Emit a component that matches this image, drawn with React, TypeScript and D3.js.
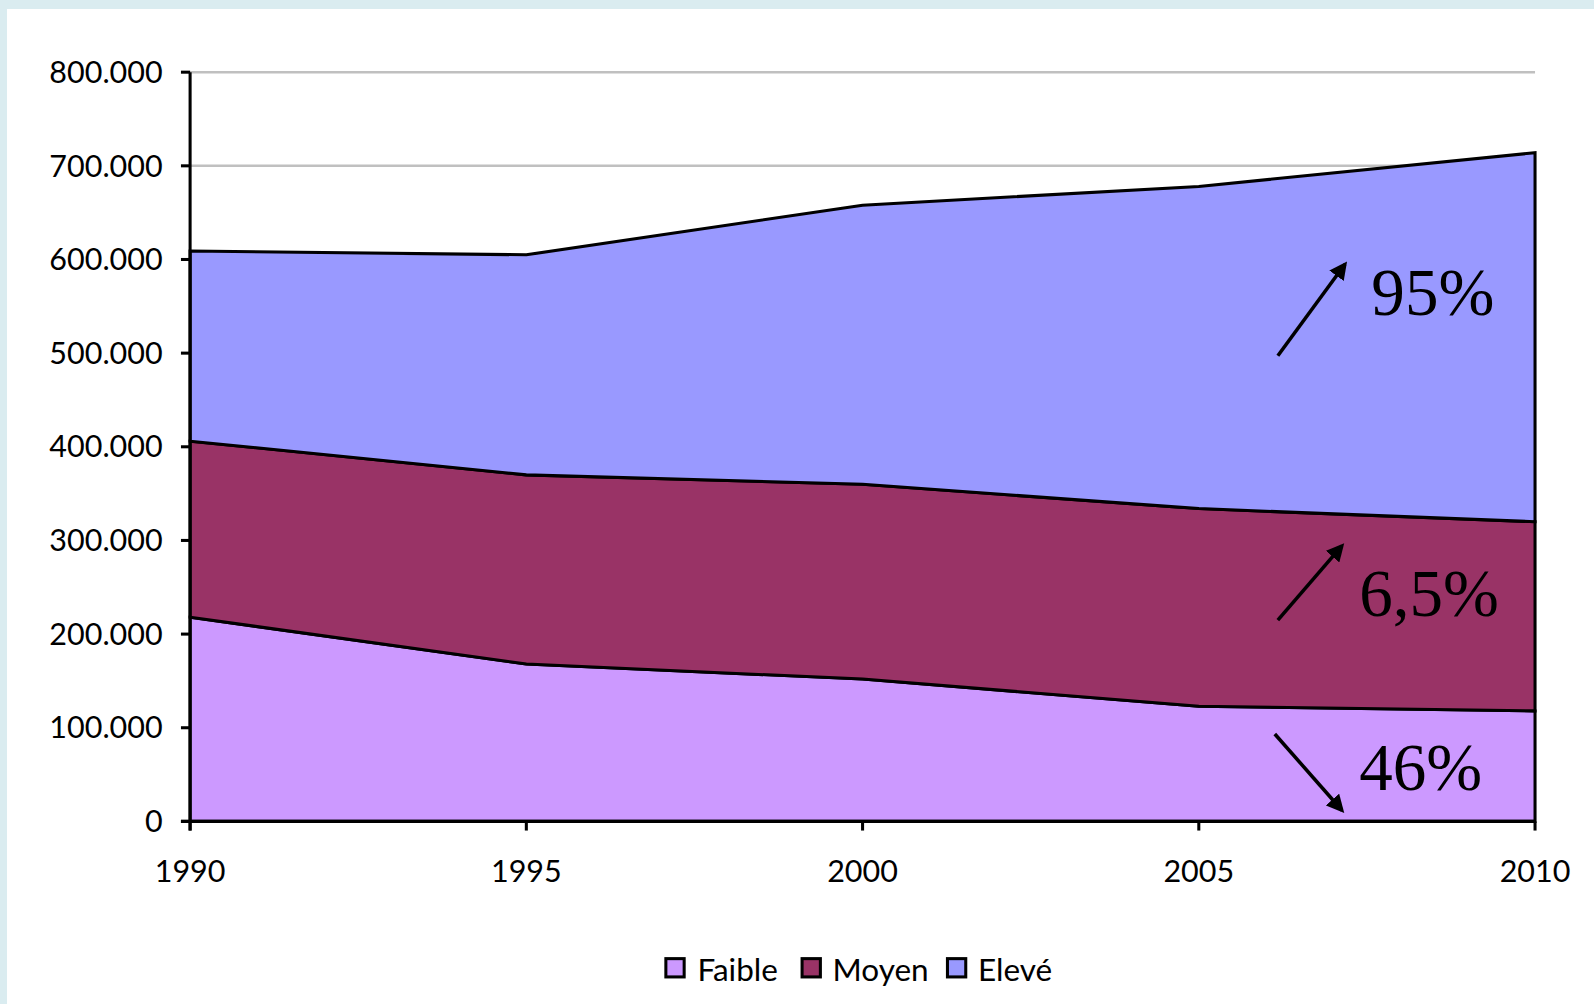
import React from "react";
import * as d3 from "d3";

const years = [1990, 1995, 2000, 2005, 2010];
const faible = [218000, 168000, 152000, 123000, 118000];
const moyen = [188000, 202000, 208000, 211000, 202000];
const eleve = [203000, 235000, 298000, 344000, 394000];
const seriesNames = ["Faible", "Moyen", "Elevé"];
const seriesColors = ["#cc99ff", "#993366", "#9999ff"];
const yTicks = [0, 100000, 200000, 300000, 400000, 500000, 600000, 700000, 800000];
const annotations = ["95%", "6,5%", "46%"];

const W = 1594;
const H = 1004;
const VW = 1568;
const VH = (H * VW) / W;
const left = 187;
const right = 1510;
const top = 71;
const bottom = 808;

export default function App() {
  const x = d3.scaleLinear().domain([1990, 2010]).range([left, right]);
  const y = d3.scaleLinear().domain([0, 800000]).range([bottom, top]);
  const rows = years.map((yr, i) => ({ year: yr, Faible: faible[i], Moyen: moyen[i], "Elevé": eleve[i] }));
  const stack = d3.stack<any>().keys(seriesNames)(rows);
  const area = d3
    .area<any>()
    .x((d) => x(d.data.year))
    .y0((d) => y(d[0]))
    .y1((d) => y(d[1]));
  const fmt = (v: number) => (v === 0 ? "0" : d3.format(",")(v).replace(/,/g, "."));
  const labelFont = "Lato, 'Open Sans', sans-serif";
  const serif = "'Liberation Serif', 'DejaVu Serif', serif";

  const annPos = [
    { ax1: 1257, ay1: 350, ax2: 1323, ay2: 260, tx: 1349, ty: 310 },
    { ax1: 1257, ay1: 610, ax2: 1320, ay2: 537, tx: 1337, ty: 606 },
    { ax1: 1254, ay1: 722, ax2: 1320, ay2: 797, tx: 1337, ty: 777 },
  ];

  return (
    <svg
      width={W}
      height={H}
      viewBox={`0 0 ${VW} ${VH}`}
      style={{ position: "absolute", left: 0, top: 0, display: "block" }}
    >
      <defs>
        <marker id="arr" viewBox="0 0 10 10" refX="8" refY="5" markerWidth="5" markerHeight="5" orient="auto">
          <path d="M0,0 L10,5 L0,10 z" fill="#000" />
        </marker>
      </defs>
      <rect x={0} y={0} width={VW} height={VH} fill="#daecf0" />
      <rect x={6.9} y={8.85} width={VW} height={VH} fill="#ffffff" />
      {yTicks.map((t) => (
        <line key={"g" + t} x1={left} x2={right} y1={y(t)} y2={y(t)} stroke="#c0c0c0" strokeWidth={2.5} />
      ))}
      {stack.map((s, i) => (
        <path key={s.key} d={area(s) || ""} fill={seriesColors[i]} stroke="#000" strokeWidth={3} strokeLinejoin="miter" />
      ))}
      <line x1={left} x2={left} y1={top} y2={bottom + 9} stroke="#000" strokeWidth={3} />
      <line x1={left - 9} x2={right} y1={bottom} y2={bottom} stroke="#000" strokeWidth={3} />
      {yTicks.map((t) => (
        <g key={"yt" + t}>
          <line x1={left - 9} x2={left} y1={y(t)} y2={y(t)} stroke="#000" strokeWidth={3} />
          <text x={160} y={y(t) + 10.5} textAnchor="end" fontFamily={labelFont} fontSize={30} fill="#000">
            {fmt(t)}
          </text>
        </g>
      ))}
      {years.map((yr) => (
        <g key={"xt" + yr}>
          <line x1={x(yr)} x2={x(yr)} y1={bottom} y2={bottom + 9} stroke="#000" strokeWidth={3} />
          <text x={x(yr)} y={868} textAnchor="middle" fontFamily={labelFont} fontSize={30} fill="#000">
            {yr}
          </text>
        </g>
      ))}
      {annotations.map((a, i) => {
        const p = annPos[i];
        return (
          <g key={"a" + i}>
            <line x1={p.ax1} y1={p.ay1} x2={p.ax2} y2={p.ay2} stroke="#000" strokeWidth={3.5} markerEnd="url(#arr)" />
            <text x={p.tx} y={p.ty} fontFamily={serif} fontSize={66} fill="#000">
              {a}
            </text>
          </g>
        );
      })}
      {[
        { sx: 655, tx: 686 },
        { sx: 789, tx: 819 },
        { sx: 932, tx: 962 },
      ].map((l, i) => (
        <g key={"l" + i}>
          <rect x={l.sx} y={943} width={18} height={18} fill={seriesColors[i]} stroke="#000" strokeWidth={3} />
          <text x={l.tx} y={965} fontFamily={labelFont} fontSize={31} fill="#000">
            {seriesNames[i]}
          </text>
        </g>
      ))}
    </svg>
  );
}
